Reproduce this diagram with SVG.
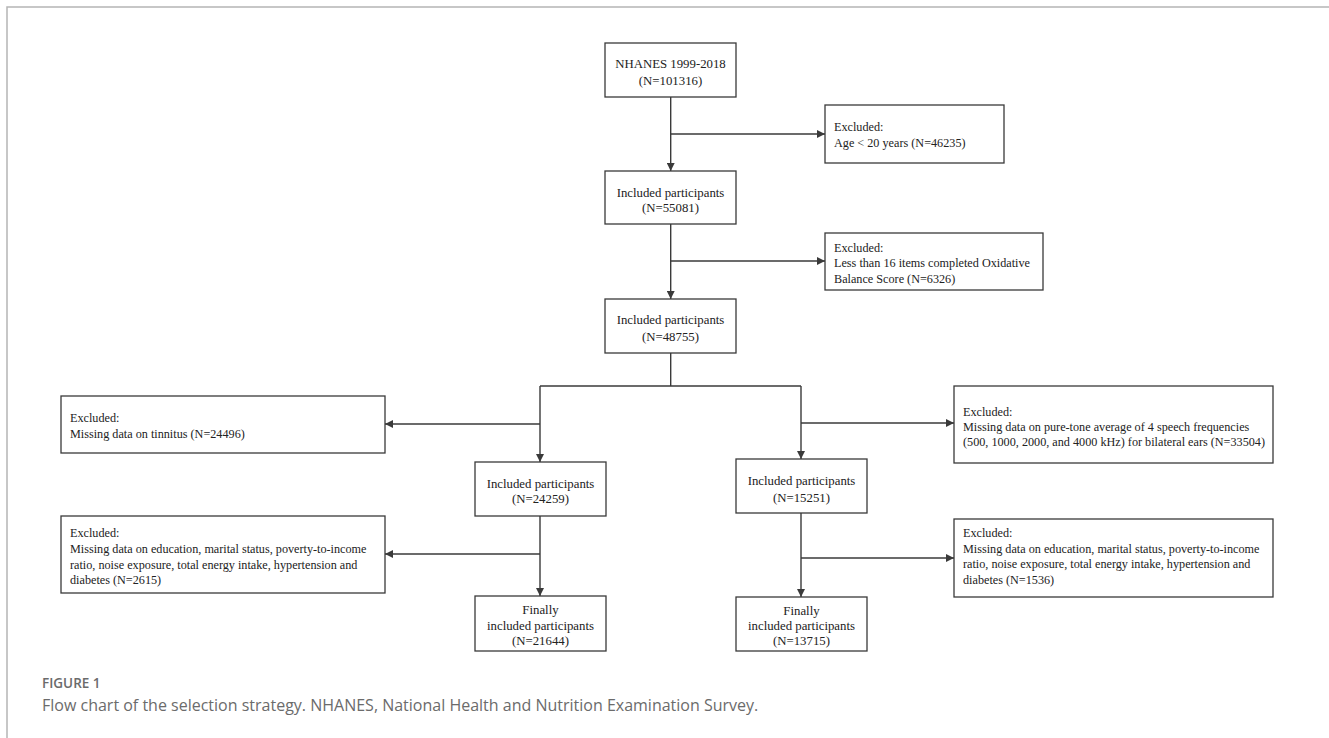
<svg xmlns="http://www.w3.org/2000/svg" width="1329" height="738" viewBox="0 0 1329 738">
<style>
.box{fill:#fff;stroke:#3a3a3a;stroke-width:1.3}
.c{font-family:"Liberation Serif","Times New Roman",serif;font-size:12.8px;fill:#222;text-anchor:middle}
.l{font-family:"Liberation Serif","Times New Roman",serif;font-size:12.2px;fill:#222}
.ln{fill:none;stroke:#3a3a3a;stroke-width:1.4}
.cap{font-family:"Open Sans","Liberation Sans",sans-serif;fill:#6b6b6b}
</style>
<defs>
<marker id="ah" viewBox="0 0 10 10" refX="10" refY="5" markerWidth="10" markerHeight="8" markerUnits="userSpaceOnUse" orient="auto">
<path d="M0,0 L10,5 L0,10 z" fill="#3a3a3a"/>
</marker>
</defs>
<rect width="1329" height="738" fill="#fff"/>
<path d="M7,738 V7 H1329" fill="none" stroke="#b5b5b5" stroke-width="1.5"/>

<g id="connectors">
<line class="ln" x1="670.7" y1="97" x2="670.7" y2="171" marker-end="url(#ah)"/>
<line class="ln" x1="670.7" y1="134" x2="825" y2="134" marker-end="url(#ah)"/>
<line class="ln" x1="670.7" y1="224" x2="670.7" y2="299" marker-end="url(#ah)"/>
<line class="ln" x1="670.7" y1="261" x2="825" y2="261" marker-end="url(#ah)"/>
<line class="ln" x1="670.7" y1="353" x2="670.7" y2="386"/>
<line class="ln" x1="540" y1="386" x2="801" y2="386"/>
<line class="ln" x1="540" y1="386" x2="540" y2="462" marker-end="url(#ah)"/>
<line class="ln" x1="540" y1="424" x2="385" y2="424" marker-end="url(#ah)"/>
<line class="ln" x1="801" y1="386" x2="801" y2="459" marker-end="url(#ah)"/>
<line class="ln" x1="801" y1="423" x2="954" y2="423" marker-end="url(#ah)"/>
<line class="ln" x1="540" y1="516" x2="540" y2="596" marker-end="url(#ah)"/>
<line class="ln" x1="540" y1="554" x2="385" y2="554" marker-end="url(#ah)"/>
<line class="ln" x1="801" y1="513" x2="801" y2="597" marker-end="url(#ah)"/>
<line class="ln" x1="801" y1="558" x2="954" y2="558" marker-end="url(#ah)"/>
</g>

<g id="n_nhanes">
<rect class="box" x="605" y="43" width="131" height="54"/>
<text class="c" x="670.5" y="67.5">NHANES 1999-2018</text>
<text class="c" x="670.5" y="84.5">(N=101316)</text>
</g>
<g id="ex_age">
<rect class="box" x="825" y="105" width="179" height="58"/>
<text class="l" x="834" y="131">Excluded:</text>
<text class="l" x="834" y="147">Age &lt; 20 years (N=46235)</text>
</g>
<g id="n_55081">
<rect class="box" x="605" y="171" width="131" height="53"/>
<text class="c" x="670.5" y="196.5">Included participants</text>
<text class="c" x="670.5" y="211.5">(N=55081)</text>
</g>
<g id="ex_obs">
<rect class="box" x="825" y="233" width="218" height="57"/>
<text class="l" x="834" y="251.7">Excluded:</text>
<text class="l" x="834" y="267.3">Less than 16 items completed Oxidative</text>
<text class="l" x="834" y="283.3">Balance Score (N=6326)</text>
</g>
<g id="n_48755">
<rect class="box" x="605" y="299" width="131" height="54"/>
<text class="c" x="670.5" y="323.5">Included participants</text>
<text class="c" x="670.5" y="340.5">(N=48755)</text>
</g>
<g id="ex_tinnitus">
<rect class="box" x="61" y="396" width="324" height="57"/>
<text class="l" x="70" y="422">Excluded:</text>
<text class="l" x="70" y="438">Missing data on tinnitus (N=24496)</text>
</g>
<g id="n_24259">
<rect class="box" x="475" y="462" width="131" height="54"/>
<text class="c" x="540.5" y="487.5">Included participants</text>
<text class="c" x="540.5" y="502.5">(N=24259)</text>
</g>
<g id="ex_cov_left">
<rect class="box" x="61" y="516" width="324" height="77"/>
<text class="l" x="70" y="537.3">Excluded:</text>
<text class="l" x="70" y="553">Missing data on education, marital status, poverty-to-income</text>
<text class="l" x="70" y="568.5">ratio, noise exposure, total energy intake, hypertension and</text>
<text class="l" x="70" y="584">diabetes (N=2615)</text>
</g>
<g id="n_21644">
<rect class="box" x="475" y="596" width="131" height="55"/>
<text class="c" x="540.5" y="614">Finally</text>
<text class="c" x="540.5" y="629.5">included participants</text>
<text class="c" x="540.5" y="644.5">(N=21644)</text>
</g>
<g id="ex_pta">
<rect class="box" x="954" y="386" width="319" height="77"/>
<text class="l" x="963" y="415.7">Excluded:</text>
<text class="l" x="963" y="430.7">Missing data on pure-tone average of 4 speech frequencies</text>
<text class="l" x="963" y="446.3">(500, 1000, 2000, and 4000 kHz) for bilateral ears (N=33504)</text>
</g>
<g id="n_15251">
<rect class="box" x="736" y="459" width="131" height="54"/>
<text class="c" x="801.5" y="484.5">Included participants</text>
<text class="c" x="801.5" y="501.5">(N=15251)</text>
</g>
<g id="ex_cov_right">
<rect class="box" x="954" y="519" width="319" height="78"/>
<text class="l" x="963" y="537.3">Excluded:</text>
<text class="l" x="963" y="553">Missing data on education, marital status, poverty-to-income</text>
<text class="l" x="963" y="568.3">ratio, noise exposure, total energy intake, hypertension and</text>
<text class="l" x="963" y="584">diabetes (N=1536)</text>
</g>
<g id="n_13715">
<rect class="box" x="736" y="597" width="131" height="54"/>
<text class="c" x="801.5" y="614.5">Finally</text>
<text class="c" x="801.5" y="630">included participants</text>
<text class="c" x="801.5" y="645">(N=13715)</text>
</g>

<text class="cap" x="42" y="688" font-size="13.5" font-weight="600" fill="#7a7a7a">FIGURE 1</text>
<text class="cap" x="42" y="711" font-size="16">Flow chart of the selection strategy. NHANES, National Health and Nutrition Examination Survey.</text>
</svg>
